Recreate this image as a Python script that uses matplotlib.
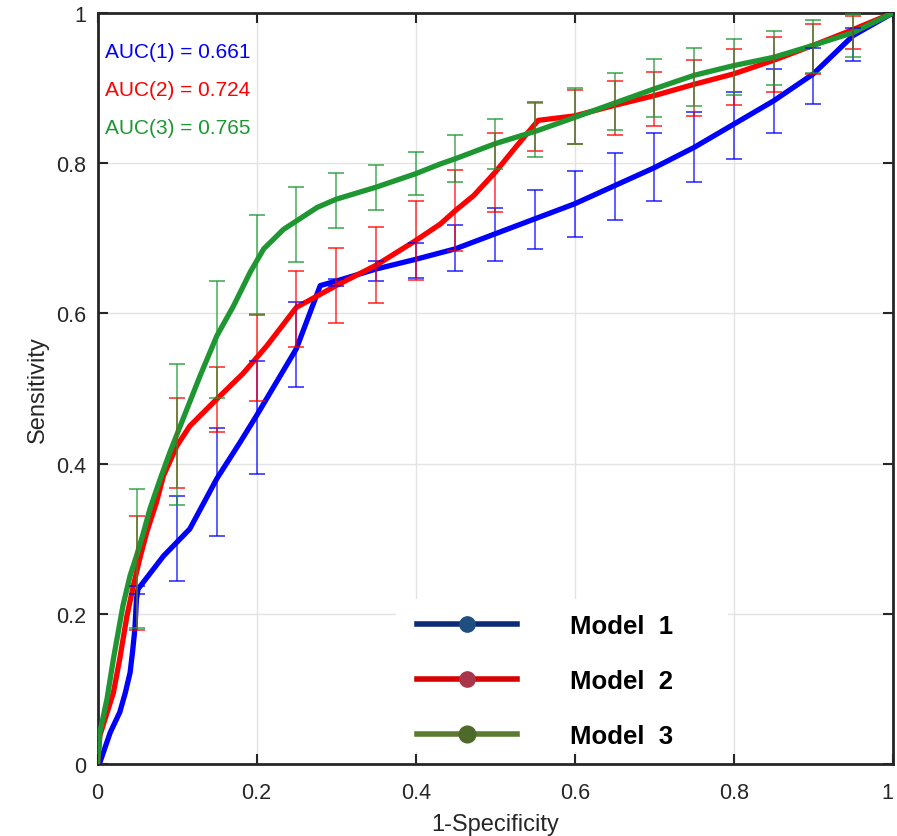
import numpy as np
import matplotlib.pyplot as plt
import matplotlib.transforms as mtransforms
from matplotlib.lines import Line2D
from matplotlib.patches import Rectangle

plt.rcParams.update({
    "font.family": ["Liberation Sans", "DejaVu Sans"],
})
CL = {
    'BLU': '#0000FF',
    'RED': '#FF0000',
    'GRN': '#1E9632',
}

""" Data """
# ROC curves
fpr_1 = [0, 0.003, 0.016, 0.028, 0.035, 0.041, 0.044, 0.047, 0.049, 0.051, 0.083, 0.116, 0.15,
         0.179, 0.2, 0.25, 0.28, 0.30, 0.35, 0.40, 0.45, 0.50, 0.55, 0.60, 0.65, 0.70, 0.75,
         0.80, 0.85, 0.90, 0.95, 1.0]
tpr_1 = [0, 0.002, 0.042, 0.069, 0.095, 0.122, 0.149, 0.18, 0.22, 0.233, 0.277, 0.313, 0.38,
         0.428, 0.464, 0.553, 0.637, 0.643, 0.659, 0.672, 0.686, 0.706, 0.726, 0.746, 0.77,
         0.794, 0.821, 0.852, 0.883, 0.919, 0.97, 1.0]

fpr_2 = [0, 0.003, 0.02, 0.028, 0.037, 0.045, 0.053, 0.062, 0.074, 0.083, 0.1, 0.116, 0.15,
         0.183, 0.213, 0.25, 0.30, 0.35, 0.40, 0.431, 0.45, 0.473, 0.50, 0.527, 0.554, 0.60,
         0.65, 0.70, 0.75, 0.80, 0.85, 0.90, 0.95, 1.0]
tpr_2 = [0, 0.038, 0.095, 0.14, 0.197, 0.237, 0.273, 0.309, 0.348, 0.384, 0.424, 0.45, 0.486,
         0.52, 0.557, 0.608, 0.637, 0.664, 0.697, 0.719, 0.737, 0.757, 0.788, 0.823, 0.857, 0.863,
         0.877, 0.89, 0.905, 0.919, 0.937, 0.957, 0.978, 1.0]

fpr_3 = [0, 0.003, 0.012, 0.02, 0.032, 0.041, 0.049, 0.058, 0.066, 0.079, 0.091, 0.104, 0.129,
         0.15, 0.171, 0.192, 0.209, 0.234, 0.25, 0.276, 0.30, 0.35, 0.40, 0.431, 0.45, 0.50,
         0.552, 0.60, 0.65, 0.70, 0.75, 0.80, 0.85, 0.90, 0.95, 1.0]
tpr_3 = [0, 0.042, 0.087, 0.14, 0.211, 0.251, 0.277, 0.309, 0.34, 0.38, 0.415, 0.45, 0.517,
         0.57, 0.61, 0.655, 0.686, 0.712, 0.723, 0.741, 0.752, 0.768, 0.786, 0.799, 0.806, 0.826,
         0.843, 0.861, 0.88, 0.899, 0.917, 0.93, 0.941, 0.957, 0.974, 1.0]

# confidence bars
bar_x = [0.05, 0.10, 0.15, 0.20, 0.25, 0.30, 0.35, 0.40, 0.45, 0.50,
         0.55, 0.60, 0.65, 0.70, 0.75, 0.80, 0.85, 0.90, 0.95]
lo_1 = [0.227, 0.244, 0.304, 0.386, 0.502, 0.636, 0.643, 0.647, 0.656, 0.670,
        0.686, 0.702, 0.724, 0.749, 0.775, 0.806, 0.840, 0.879, 0.936]
hi_1 = [0.237, 0.357, 0.447, 0.536, 0.615, 0.646, 0.670, 0.694, 0.718, 0.740,
        0.764, 0.790, 0.814, 0.840, 0.868, 0.895, 0.925, 0.954, 0.980]
lo_2 = [0.178, 0.368, 0.442, 0.483, 0.555, 0.587, 0.614, 0.645, 0.683, 0.735,
        0.816, 0.826, 0.838, 0.850, 0.863, 0.877, 0.895, 0.919, 0.952]
hi_2 = [0.330, 0.487, 0.529, 0.598, 0.656, 0.687, 0.715, 0.749, 0.791, 0.840,
        0.881, 0.898, 0.909, 0.921, 0.937, 0.952, 0.968, 0.985, 0.996]
lo_3 = [0.181, 0.345, 0.488, 0.599, 0.668, 0.714, 0.738, 0.758, 0.775, 0.792,
        0.808, 0.826, 0.844, 0.862, 0.876, 0.891, 0.904, 0.920, 0.941]
hi_3 = [0.366, 0.532, 0.643, 0.731, 0.768, 0.787, 0.798, 0.815, 0.837, 0.859,
        0.880, 0.900, 0.920, 0.939, 0.953, 0.965, 0.976, 0.990, 0.999]

auc_text = ['AUC(1) = 0.661', 'AUC(2) = 0.724', 'AUC(3) = 0.765']
model_names = ['Model  1', 'Model  2', 'Model  3']


""" Plot """
fig = plt.figure(figsize=(8.97, 8.37), dpi=100)
ax = fig.add_axes([0.1087, 0.086, 0.8868, 0.8973])

ax.plot(fpr_1, tpr_1, c=CL['BLU'], lw=3.8, zorder=3, solid_capstyle='round')
ax.plot(fpr_2, tpr_2, c=CL['RED'], lw=3.8, zorder=4, solid_capstyle='round')
ax.plot(fpr_3, tpr_3, c=CL['GRN'], lw=3.8, zorder=5, solid_capstyle='round')

bx = np.asarray(bar_x)
for lo, hi, c in [(lo_1, hi_1, CL['BLU']), (lo_2, hi_2, CL['RED']), (lo_3, hi_3, CL['GRN'])]:
    lo = np.asarray(lo)
    hi = np.asarray(hi)
    ax.errorbar(bx, (lo + hi) / 2, yerr=(hi - lo) / 2, fmt='none', ecolor=c,
                elinewidth=1.1, capsize=5.8, capthick=1.2, alpha=0.8, zorder=6)

for i, (t, c) in enumerate(zip(auc_text, [CL['BLU'], CL['RED'], CL['GRN']])):
    ax.text(0.0095, 0.949 - 0.0505 * i, t, color=c, fontsize=15,
            transform=ax.transAxes, va='center', ha='left')

ax.set_xlim([0, 1])
ax.set_ylim([0, 1])
ticks = [0, 0.2, 0.4, 0.6, 0.8, 1]
tick_lbl = ['0', '0.2', '0.4', '0.6', '0.8', '1']
ax.set_xticks(ticks, tick_lbl)
ax.set_yticks(ticks, tick_lbl)
ax.tick_params(direction='in', length=7, width=1.5, top=True, right=True,
               labelsize=15.5, colors='#262626')
ax.tick_params(axis='x', pad=13)
ax.tick_params(axis='y', pad=8)
# keep the last x label inside the canvas
last = ax.get_xticklabels()[-1]
last.set_transform(last.get_transform() + mtransforms.ScaledTranslation(-4 / 72, 0, fig.dpi_scale_trans))
for s in ax.spines.values():
    s.set_linewidth(2)
    s.set_color('#262626')
ax.grid(color='#e3e3e3', lw=1)
ax.set_axisbelow(True)
ax.set_xlabel('1-Specificity', fontsize=17, color='#262626', labelpad=7)
ax.set_ylabel('Sensitivity', fontsize=17, color='#262626', labelpad=5)

# legend sits on a white patch, like the pasted box in the source
ax.add_patch(Rectangle((0.3755, 0.016), 0.4165, 0.2037, transform=ax.transAxes,
                       facecolor='white', edgecolor='none', zorder=9))
handles = [
    Line2D([], [], color='#0b2a78', lw=4, marker='o', ms=11, mfc='#1f4e7f', mec='#1f4e7f'),
    Line2D([], [], color='#d80000', lw=4, marker='o', ms=11, mfc='#a8354a', mec='#a8354a'),
    Line2D([], [], color='#5c7a30', lw=4, marker='o', ms=12, mfc='#4d6a2a', mec='#4d6a2a'),
]
leg = ax.legend(handles, model_names, loc='upper left', bbox_to_anchor=(0.402, 0.1997),
                prop={'weight': 'bold', 'size': 18.5}, handlelength=3.9, handletextpad=2.06,
                labelspacing=1.2, numpoints=1, frameon=False, borderpad=0, borderaxespad=0)
leg.set_zorder(10)

plt.savefig('out.png', dpi=100)
